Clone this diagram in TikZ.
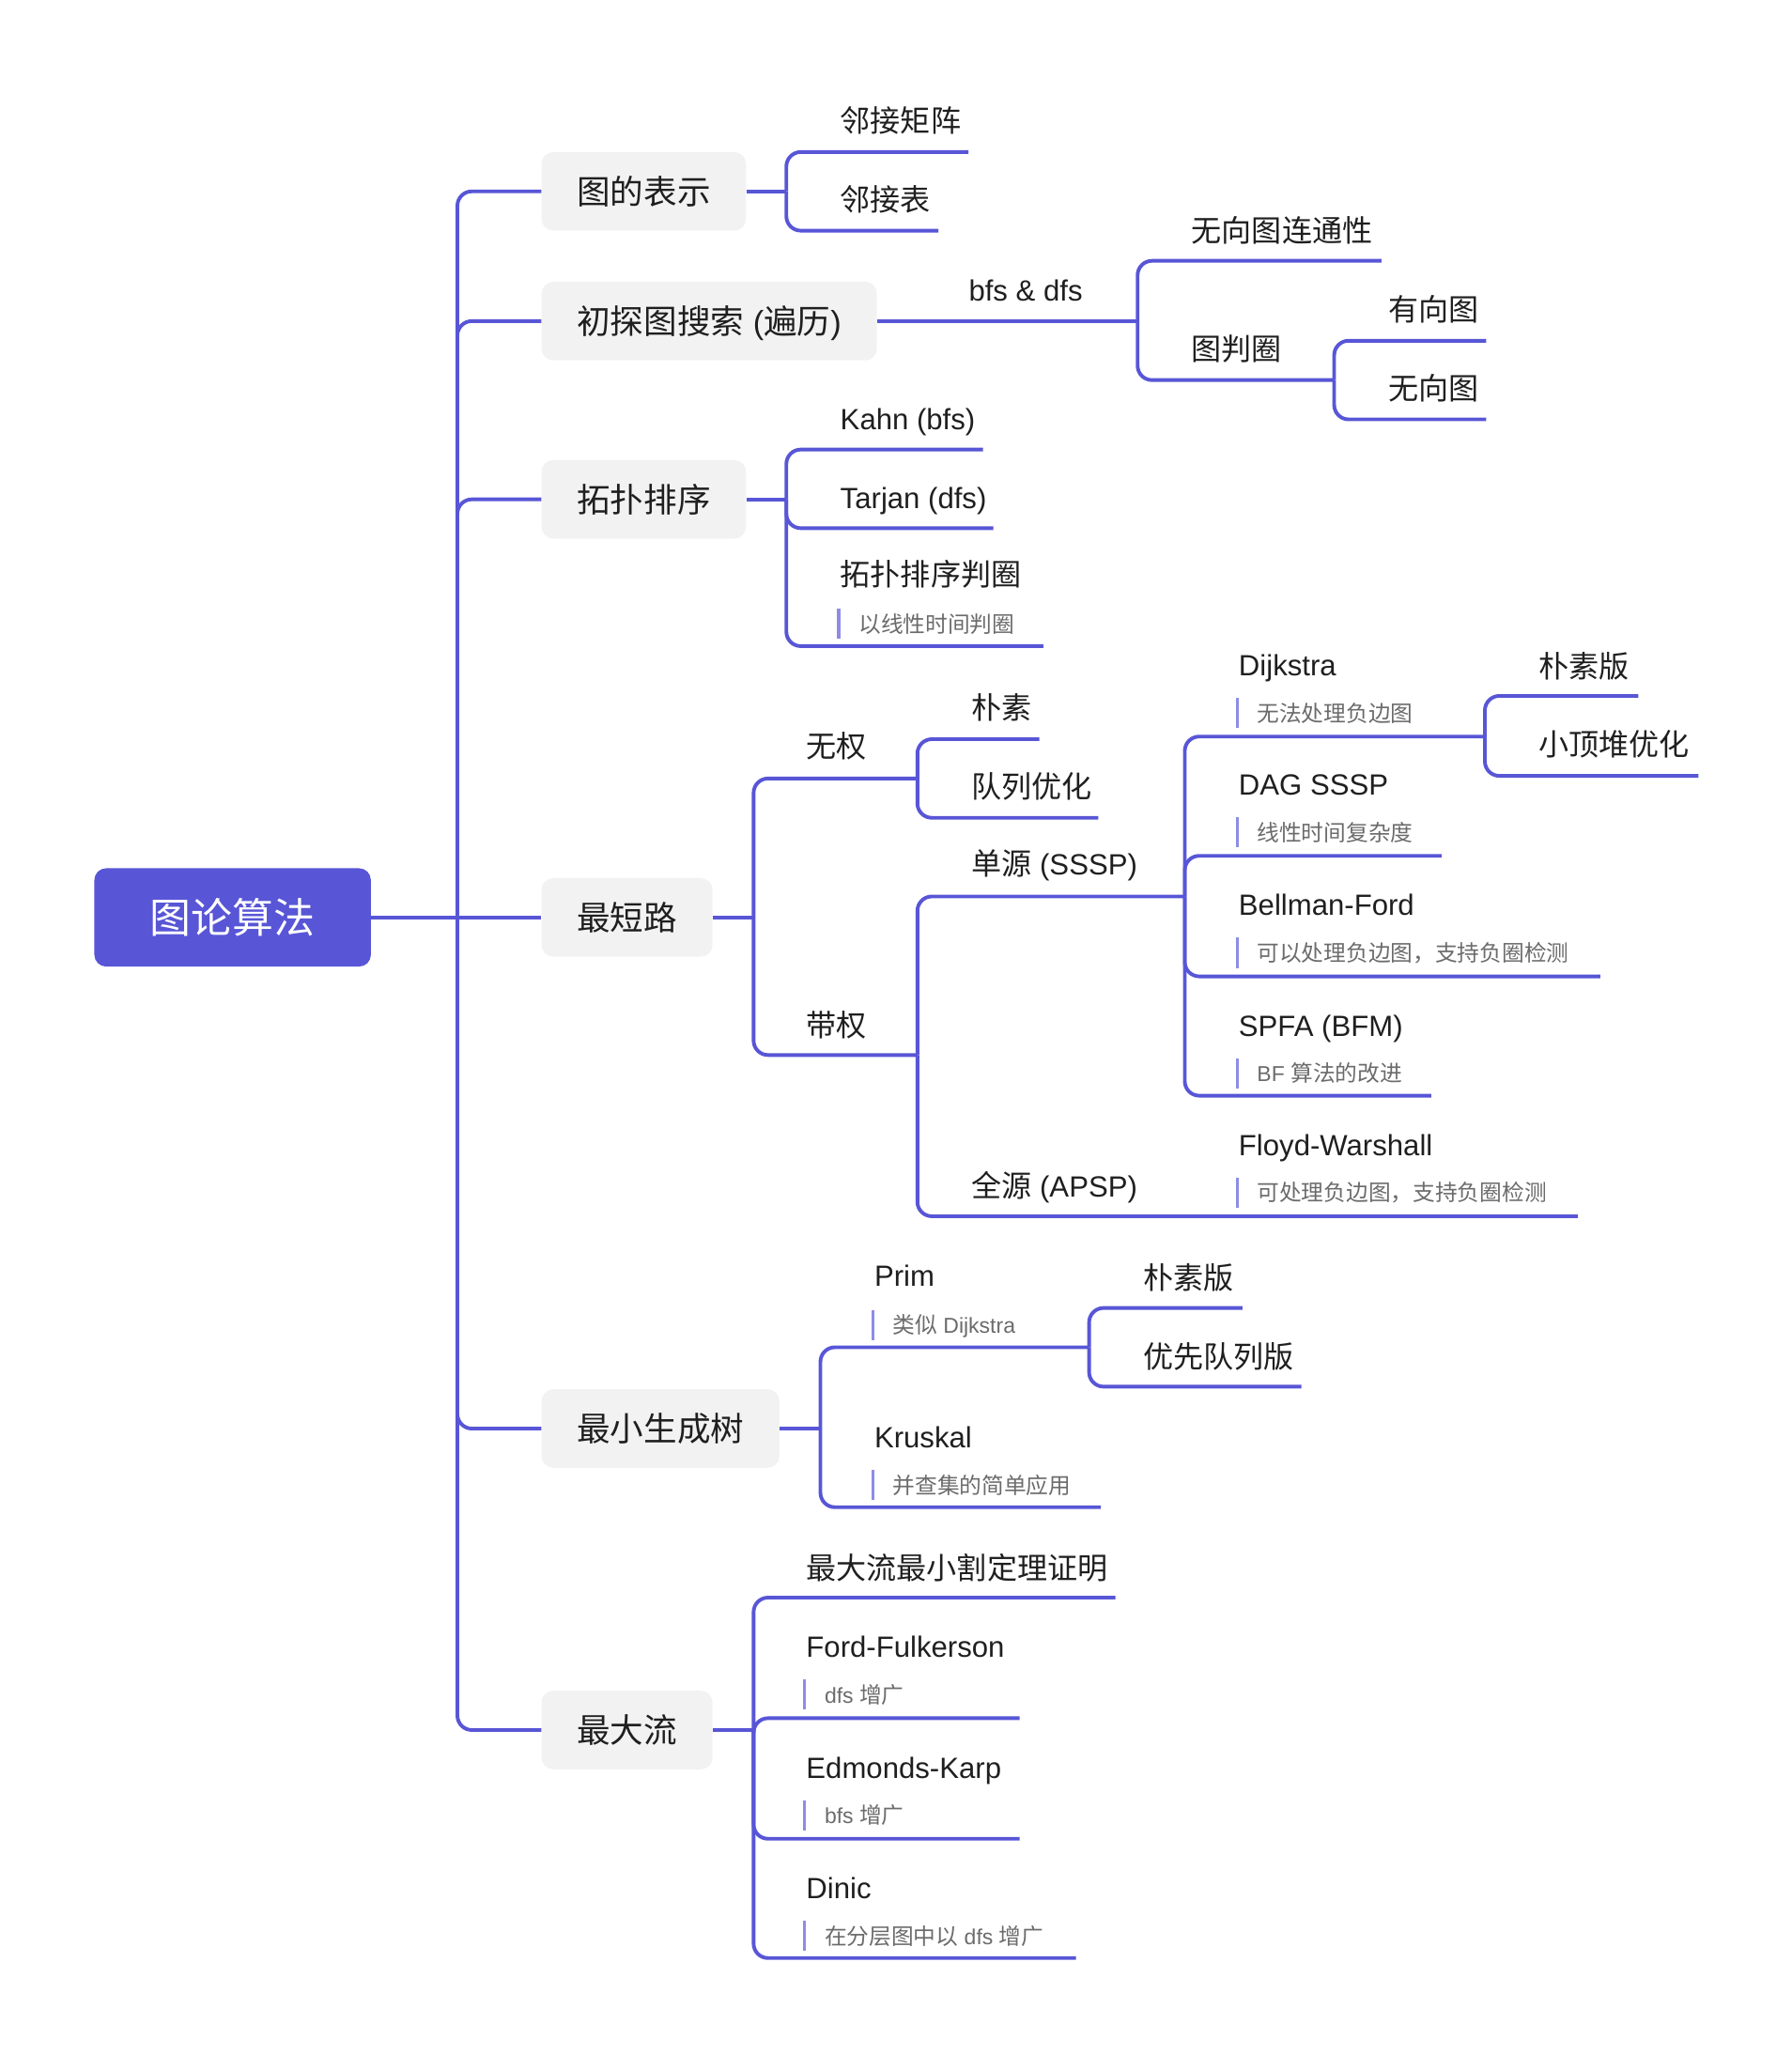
\documentclass[tikz,border=0pt]{standalone}
\usepackage{fontspec}
\setmainfont{Noto Sans CJK SC}
\newfontfamily\latf[Scale=0.97]{Liberation Sans}
\newcommand{\lat}[1]{{\latf #1}}
\definecolor{indigo}{HTML}{5856D6}
\definecolor{notebar}{HTML}{8E8CE6}
\definecolor{notegray}{HTML}{6B6B6B}
\definecolor{boxgray}{HTML}{F2F2F2}
\definecolor{ink}{HTML}{1F1F1F}
\newcommand{\mnote}[3]{\node[notetext] (#1) at (#2) {#3}; \draw[notebar] (#1.west) ++(-15,-11.5) -- ++(0,23);}
\begin{document}
\begin{tikzpicture}[x=1pt,y=-1pt,
  branch/.style={draw=indigo, line width=2.8pt, rounded corners=11pt},
  rootbox/.style={fill=indigo, rounded corners=9pt, text=white, font=\fontsize{31.5}{36}\selectfont, text height=27.7pt, text depth=3.8pt, minimum height=75pt, inner xsep=0pt, minimum width=211pt},
  topic/.style={fill=boxgray, rounded corners=9pt, text=ink, font=\fontsize{25.5}{30}\selectfont, text height=22.4pt, text depth=3.1pt, minimum height=60pt, inner xsep=27pt, anchor=west},
  sub/.style={anchor=west, inner sep=0pt, text=ink, font=\fontsize{23}{28}\selectfont, text height=20.2pt, text depth=2.8pt},
  notetext/.style={anchor=west, inner sep=0pt, text=notegray, font=\fontsize{17}{20}\selectfont, text height=15pt, text depth=2pt},
  notebar/.style={draw=notebar, line width=2.4pt},
]
\useasboundingbox (0,0) rectangle (1367,1568);

% root and hub
\node[rootbox] (root) at (177.5,700) {图论算法};
\coordinate (hub) at (349,700);
\draw[branch] (root.east) -- (hub);

% topics
\node[topic] (t1) at (413,146) {图的表示};
\node[topic] (t2) at (413,245) {初探图搜索\lat{ (}遍历\lat{)}};
\node[topic] (t3) at (413,381) {拓扑排序};
\node[topic] (t4) at (413,700) {最短路};
\node[topic] (t5) at (413,1090) {最小生成树};
\node[topic] (t6) at (413,1320) {最大流};
\foreach \t in {t1,t2,t3,t5,t6} \draw[branch] (hub) |- (\t.west);
\draw[branch] (hub) -- (t4.west);

% ---- 图的表示
\coordinate (j1) at (600,146);
\draw[branch] (t1.east) -- (j1);
\node[sub] (a1) at (641,92) {邻接矩阵};
\coordinate (a1e) at (739,116);
\node[sub] (a2) at (641,152) {邻接表};
\coordinate (a2e) at (716,176);
\draw[branch] (j1) |- (a1e);
\draw[branch] (j1) |- (a2e);

% ---- 初探图搜索
\node[sub] (b1) at (739,221) {\lat{bfs \& dfs}};
\coordinate (b1e) at (868,245);
\draw[branch] (t2.east) -- (b1e);
\node[sub] (c1) at (909,176) {无向图连通性};
\coordinate (c1e) at (1054,199);
\node[sub] (c2) at (909,266) {图判圈};
\coordinate (c2e) at (1018,290);
\draw[branch] (b1e) |- (c1e);
\draw[branch] (b1e) |- (c2e);
\node[sub] (d1) at (1059,236) {有向图};
\coordinate (d1e) at (1134,260);
\node[sub] (d2) at (1059,296) {无向图};
\coordinate (d2e) at (1134,320);
\draw[branch] (c2e) |- (d1e);
\draw[branch] (c2e) |- (d2e);

% ---- 拓扑排序
\coordinate (j3) at (600,381);
\draw[branch] (t3.east) -- (j3);
\node[sub] (k1) at (641,319) {\lat{Kahn (bfs)}};
\coordinate (k1e) at (750,343);
\node[sub] (k2) at (641,379) {\lat{Tarjan (dfs)}};
\coordinate (k2e) at (758,403);
\node[sub] (k3) at (641,438) {拓扑排序判圈};
\mnote{k3n}{655,476}{以线性时间判圈}
\coordinate (k3e) at (796,493);
\draw[branch] (j3) |- (k1e);
\draw[branch] (j3) |- (k2e);
\draw[branch] (j3) |- (k3e);

% ---- 最短路
\coordinate (j4) at (575,700);
\draw[branch] (t4.east) -- (j4);
\node[sub] (w0) at (615,569) {无权};
\coordinate (w0e) at (700,594);
\node[sub] (w1) at (615,782) {带权};
\coordinate (w1e) at (700,805);
\draw[branch] (j4) |- (w0e);
\draw[branch] (j4) |- (w1e);
% 无权
\node[sub] (u1) at (741,540) {朴素};
\coordinate (u1e) at (793,564);
\node[sub] (u2) at (741,600) {队列优化};
\coordinate (u2e) at (838,624);
\draw[branch] (w0e) |- (u1e);
\draw[branch] (w0e) |- (u2e);
% 带权
\node[sub] (s1) at (741,659) {单源\lat{ (SSSP)}};
\coordinate (s1e) at (904,684);
\node[sub] (s2) at (741,905) {全源\lat{ (APSP)}};
\coordinate (s2e) at (904,928);
\draw[branch] (w1e) |- (s1e);
\draw[branch] (w1e) |- (s2e);
% 单源
\node[sub] (p1) at (945,507) {\lat{Dijkstra}};
\mnote{p1n}{959,544}{无法处理负边图}
\coordinate (p1e) at (1133,562);
\node[sub] (p2) at (945,598) {\lat{DAG SSSP}};
\mnote{p2n}{959,635}{线性时间复杂度}
\coordinate (p2e) at (1100,653);
\node[sub] (p3) at (945,690) {\lat{Bellman-Ford}};
\mnote{p3n}{959,727}{可以处理负边图，支持负圈检测}
\coordinate (p3e) at (1221,745);
\node[sub] (p4) at (945,782) {\lat{SPFA (BFM)}};
\mnote{p4n}{959,819}{\lat{BF }算法的改进}
\coordinate (p4e) at (1092,836);
\draw[branch] (s1e) |- (p1e);
\draw[branch] (s1e) |- (p2e);
\draw[branch] (s1e) |- (p3e);
\draw[branch] (s1e) |- (p4e);
% Dijkstra
\node[sub] (q1) at (1174,508) {朴素版};
\coordinate (q1e) at (1250,531);
\node[sub] (q2) at (1174,568) {小顶堆优化};
\coordinate (q2e) at (1296,592);
\draw[branch] (p1e) |- (q1e);
\draw[branch] (p1e) |- (q2e);
% 全源
\node[sub] (f1) at (945,873) {\lat{Floyd-Warshall}};
\mnote{f1n}{959,910}{可处理负边图，支持负圈检测}
\coordinate (f1e) at (1204,928);
\draw[branch] (s2e) -- (f1e);

% ---- 最小生成树
\coordinate (j5) at (626,1090);
\draw[branch] (t5.east) -- (j5);
\node[sub] (m1) at (667,973) {\lat{Prim}};
\mnote{m1n}{681,1011}{类似\lat{ Dijkstra}}
\coordinate (m1e) at (831,1028);
\node[sub] (m2) at (667,1096) {\lat{Kruskal}};
\mnote{m2n}{681,1133}{并查集的简单应用}
\coordinate (m2e) at (840,1150);
\draw[branch] (j5) |- (m1e);
\draw[branch] (j5) |- (m2e);
\node[sub] (r1) at (872,975) {朴素版};
\coordinate (r1e) at (948,998);
\node[sub] (r2) at (872,1035) {优先队列版};
\coordinate (r2e) at (993,1058);
\draw[branch] (m1e) |- (r1e);
\draw[branch] (m1e) |- (r2e);

% ---- 最大流
\coordinate (j6) at (575,1320);
\draw[branch] (t6.east) -- (j6);
\node[sub] (x1) at (615,1196) {最大流最小割定理证明};
\coordinate (x1e) at (851,1219);
\node[sub] (x2) at (615,1256) {\lat{Ford-Fulkerson}};
\mnote{x2n}{629,1293}{\lat{dfs }增广}
\coordinate (x2e) at (778,1311);
\node[sub] (x3) at (615,1348) {\lat{Edmonds-Karp}};
\mnote{x3n}{629,1385}{\lat{bfs }增广}
\coordinate (x3e) at (778,1403);
\node[sub] (x4) at (615,1440) {\lat{Dinic}};
\mnote{x4n}{629,1477}{在分层图中以\lat{ dfs }增广}
\coordinate (x4e) at (821,1494);
\draw[branch] (j6) |- (x1e);
\draw[branch] (j6) |- (x2e);
\draw[branch] (j6) |- (x3e);
\draw[branch] (j6) |- (x4e);
\end{tikzpicture}
\end{document}
